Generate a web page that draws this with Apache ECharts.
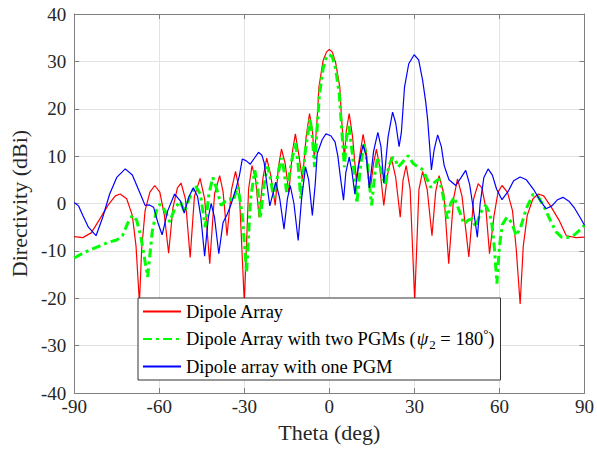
<!DOCTYPE html>
<html>
<head>
<meta charset="utf-8">
<script src="https://cdn.jsdelivr.net/npm/echarts@6/dist/echarts.min.js"></script>
<style>html,body{margin:0;padding:0;background:#fff}#c{width:597px;height:449px}</style>
</head>
<body>
<div id="c"></div>
<script>
const xTicks = [-90, -60, -30, 0, 30, 60, 90];
const yTicks = [-40, -30, -20, -10, 0, 10, 20, 30, 40];
const seriesNames = ['Dipole Array', 'Dipole Array with two PGMs (ψ2 = 180°)', 'Dipole array with one PGM'];

const redTheta = [-90,-87,-84,-81,-78,-75.5,-73.8,-71.5,-69.5,-68.2,-67,-66.2,-65,-63.3,-61.6,-59.8,-58.2,-56.7,-55.2,-53.6,-52.3,-50.8,-49.1,-47.6,-45.6,-44,-42.2,-40.5,-38.7,-37.5,-36.1,-34.5,-33.1,-31.8,-30,-28.5,-27.3,-26,-24.8,-23.4,-22.1,-20.7,-19.1,-18,-16.9,-15.6,-14.3,-13,-12,-10.7,-9.5,-8.2,-7.0,-6,-5.3,-4.2,-3.7,-2.2,-1,0,1,2.2,3.7,4.2,5.3,6,7.0,8.2,9.5,10.7,11.9,13,14.3,15.6,16.6,17.8,19.2,20.5,21.8,23.4,25.0,26,27.1,28.5,30.1,31.6,32.9,34.5,36.2,37.5,38.7,40.4,42.1,43.8,45.2,46.8,49.2,50.9,52.5,53.8,55.2,56.5,58.1,59.5,60.9,62.8,64.6,65.9,67.3,68.4,69.8,71.8,73.7,75.6,78,81,83.6,87,90];
const redDb = [-7.0,-7.2,-6.2,-3.3,-0.3,1.6,2.0,1.0,-2.5,-9,-21,-9.5,-1.5,2.4,3.8,2.4,-2.5,-10.5,-1,3.3,4.3,1.0,-11.4,1.5,5.3,1,-12.7,2,5.9,2.5,-6.8,3,6.8,3,-21,3,8.0,5,-2.9,5.5,9.6,6,-0.4,7.5,11.5,8.5,2.4,11,14.7,10,5,14,19.0,15.5,9.5,18.9,24.5,30.2,32,32.5,32,29.8,24.5,18.9,9.5,15.5,19.0,14,5,10,14.6,11,2.4,8.5,11.5,7.5,-0.4,6,9.8,5.5,-2.9,5,8.0,3,-20.5,3,6.8,3,-6.8,2.5,5.9,2,-12.7,1,5.2,1.5,-11.3,1.0,4.2,3.3,-1,-10.6,-2.5,2.4,3.8,2.4,-1.5,-9.5,-21.2,-9,-2.5,1.0,2.0,1.6,-0.5,-3.5,-6.8,-7.2,-7.1];

const greenTheta = [-90,-86,-82,-78,-75,-73,-71,-69.5,-68,-66.5,-64.1,-62.5,-61,-59.7,-58,-56.3,-54.5,-52.6,-51.1,-49.5,-47.3,-45.5,-43.8,-42.5,-41.1,-39.7,-38.2,-36.7,-35.2,-34,-32.3,-30.8,-29.2,-27.8,-26.3,-25.2,-24.4,-23,-21.8,-20.7,-19.7,-18.2,-16.9,-16,-15.1,-13.3,-11.9,-11,-10.1,-8.5,-6.8,-6,-5.2,-4.2,-3.5,-2.2,-1,0,1,2.2,3.5,4.2,5.3,6,6.8,8.2,9.7,11,12.2,13.5,14.9,16,17.0,18.2,19.7,21,22.4,23.3,24.2,25.5,27.8,29.5,31.2,32.6,33.8,35.8,37.2,38.7,40,41.6,42.8,44.0,45.8,47.5,49,50.4,51.6,53.3,55.1,56.5,57.4,58.3,59.1,60,61,62.6,64.3,65.9,67.5,69.5,71.9,73.7,75.5,78,80,81.9,84,86.5,88.5,90];
const greenDb = [-11.5,-10.2,-9.2,-8.2,-7.7,-6.8,-4,-2.5,-3.5,-7,-15.5,-6,-1.5,-0.1,-1.5,-3.9,-1,0.5,-1.8,1,3.8,2,-5,2,5.5,3,-0.4,0.5,1.0,0.5,3.6,-2,-14.5,1,7.0,3,-3.2,4,7.8,5,1.3,6,9.6,7,2.4,9,12.9,8,1.0,11,17.9,14,7.7,17,23,28.5,31,31.4,31,28.5,23,17,7.7,13.5,16.8,10,0,8,12.8,8,-0.4,6,9.8,7,4,8,9.8,9.3,7.7,8.5,10.1,8.5,7.7,7.3,6,3.4,4.5,5.2,2,-3.2,0,1.3,-1.5,-4.3,-3.5,-3.2,-5.0,-2,-0.4,-2,-4.6,-10,-16.9,-9,-4.5,-2.9,-4,-6.8,-5,-1,2.0,1.4,-0.4,-3.6,-6,-7.1,-7.2,-6.6,-5.5,-4.6];

const blueTheta = [-90,-88.5,-87,-85,-82.3,-80,-77.5,-75,-72,-69.5,-67,-65,-63.5,-62,-60.5,-59,-57,-54.6,-52.5,-51.2,-49.5,-48.0,-46.5,-45.3,-44.0,-42.7,-41.7,-40.5,-39.0,-37.5,-36.2,-34.7,-33,-31.7,-30.7,-29.3,-27.9,-26.4,-25.0,-23.8,-23.0,-21.9,-21.0,-18.9,-17.5,-16.0,-14.8,-13.8,-12.5,-11.0,-9.8,-8.4,-7.3,-6.0,-5,-4.3,-2.5,-1.2,0.5,2,3,3.8,5.0,5.8,7.0,7.9,9.0,10.3,11.9,13,14.1,15.6,17.1,18.2,19.2,20.7,22.3,23.4,24.6,25.4,26.5,28,29.9,31.5,32.9,34.0,34.7,36.0,37,38.2,39.5,40.5,42.2,44.6,46.5,48.1,49.5,50.5,52.2,53.2,54.5,56.0,57.5,59,60.9,63,65,67.3,69.5,72,74.5,76.4,78.5,80.5,82.4,84.5,86.5,88.5,90];
const blueDb = [0.2,-0.5,-2.5,-5,-6.8,-3,2,5.5,7.3,6,2.5,-0.4,-0.3,-0.8,-4,-6.6,-1.5,2.0,0.5,-2.0,1.5,3.3,1.5,-3,-11.1,-3,0,-3,-10.6,-4,-2.5,-0.2,3,6,9.4,9.0,8.3,9.6,10.8,10.2,8.6,3.5,-0.5,4.5,1,-5.4,1,3.8,0,-7.8,1,7.7,5,-2.5,4,10.5,13.5,14.7,14.3,13.0,10,6,0.7,6.5,9.8,7,2.0,8,12.4,10,3.3,11,15.0,12,4.3,14,19.3,17,12.0,15,24.5,29.5,31.4,30.3,26,21.4,17.5,7.1,11.5,14.5,12,8,5.0,3.8,5.5,7.0,4,0,-7.1,0,5.5,7.3,6,3,0.8,2.5,4.8,5.6,5,3,0.5,-1.1,-0.5,0.8,1.3,0.5,-1,-3,-4.6];

function zip(a, b) { return a.map((v, i) => [v, b[i]]); }

const chart = echarts.init(document.getElementById('c'), null, { renderer: 'svg' });
const font = 'Liberation Serif, Times New Roman, serif';
const axisCol = '#262626';
const frameCol = '#7f7f7f';

const legendFmt = function (name) {
  if (name === seriesNames[1]) {
    return '{n|Dipole Array with two PGMs (}{i|ψ}{sub|2}{n| = 180}{sup|°}{n|)}';
  }
  return '{n|' + name + '}';
};

chart.setOption({
  animation: false,
  backgroundColor: '#fff',
  grid: { left: 70, right: 12, top: 14, bottom: 56, containLabel: false },
  xAxis: [{
    type: 'value', min: -90, max: 90, interval: 30,
    name: 'Theta (deg)', nameLocation: 'middle', nameGap: 28,
    nameTextStyle: { fontFamily: font, fontSize: 22, color: axisCol },
    axisLine: { onZero: false, lineStyle: { color: frameCol, width: 1 } },
    axisTick: { inside: true, length: 5, lineStyle: { color: frameCol } },
    axisLabel: { fontFamily: font, fontSize: 19, color: axisCol, margin: 4,
      formatter: v => xTicks.includes(v) ? String(v) : '' },
    splitLine: { show: true, lineStyle: { color: '#e3e3e3', width: 1 } }
  }, {
    type: 'value', min: -90, max: 90, interval: 30, position: 'top',
    axisLine: { onZero: false, lineStyle: { color: frameCol, width: 1 } },
    axisTick: { inside: true, length: 5, lineStyle: { color: frameCol } },
    axisLabel: { show: false }, splitLine: { show: false }
  }],
  yAxis: [{
    type: 'value', min: -40, max: 40, interval: 10,
    name: 'Directivity (dBi)', nameLocation: 'middle', nameGap: 37, nameRotate: 90,
    nameTextStyle: { fontFamily: font, fontSize: 22, color: axisCol },
    axisLine: { show: true, onZero: false, lineStyle: { color: frameCol, width: 1 } },
    axisTick: { show: true, inside: true, length: 5, lineStyle: { color: frameCol } },
    axisLabel: { fontFamily: font, fontSize: 19, color: axisCol, margin: 8,
      formatter: v => yTicks.includes(v) ? String(v) : '' },
    splitLine: { show: true, lineStyle: { color: '#e3e3e3', width: 1 } }
  }, {
    type: 'value', min: -40, max: 40, interval: 10, position: 'right',
    axisLine: { show: true, onZero: false, lineStyle: { color: frameCol, width: 1 } },
    axisTick: { show: true, inside: true, length: 5, lineStyle: { color: frameCol } },
    axisLabel: { show: false }, splitLine: { show: false }
  }],
  legend: {
    orient: 'vertical', left: 138, top: 298,
    backgroundColor: '#fff', borderColor: '#333', borderWidth: 1,
    padding: [4, 6, 4, 4], itemGap: 6, itemWidth: 38, itemHeight: 14,
    itemStyle: { opacity: 0, borderWidth: 0 },
    formatter: legendFmt,
    textStyle: {
      fontFamily: font, fontSize: 18.5, color: '#000',
      rich: {
        n: { fontFamily: font, fontSize: 18.5, color: '#000' },
        i: { fontFamily: font, fontSize: 18.5, fontStyle: 'italic', color: '#000' },
        sub: { fontFamily: font, fontSize: 13, color: '#000', padding: [11, 0, 0, 1] },
        sup: { fontFamily: font, fontSize: 13, color: '#000', padding: [0, 0, 11, 0] }
      }
    },
    data: seriesNames
  },
  series: [{
    name: seriesNames[0], type: 'line', data: zip(redTheta, redDb),
    showSymbol: false, symbol: 'none', z: 2,
    lineStyle: { color: '#ff0000', width: 1.2 }, itemStyle: { color: '#ff0000' }
  }, {
    name: seriesNames[1], type: 'line', data: zip(greenTheta, greenDb),
    showSymbol: false, symbol: 'none', z: 3,
    lineStyle: { color: '#00ff00', width: 3, type: [9, 4, 3, 4] }, itemStyle: { color: '#00ff00' }
  }, {
    name: seriesNames[2], type: 'line', data: zip(blueTheta, blueDb),
    showSymbol: false, symbol: 'none', z: 4,
    lineStyle: { color: '#0000ff', width: 1.2 }, itemStyle: { color: '#0000ff' }
  }]
});
</script>
</body>
</html>
